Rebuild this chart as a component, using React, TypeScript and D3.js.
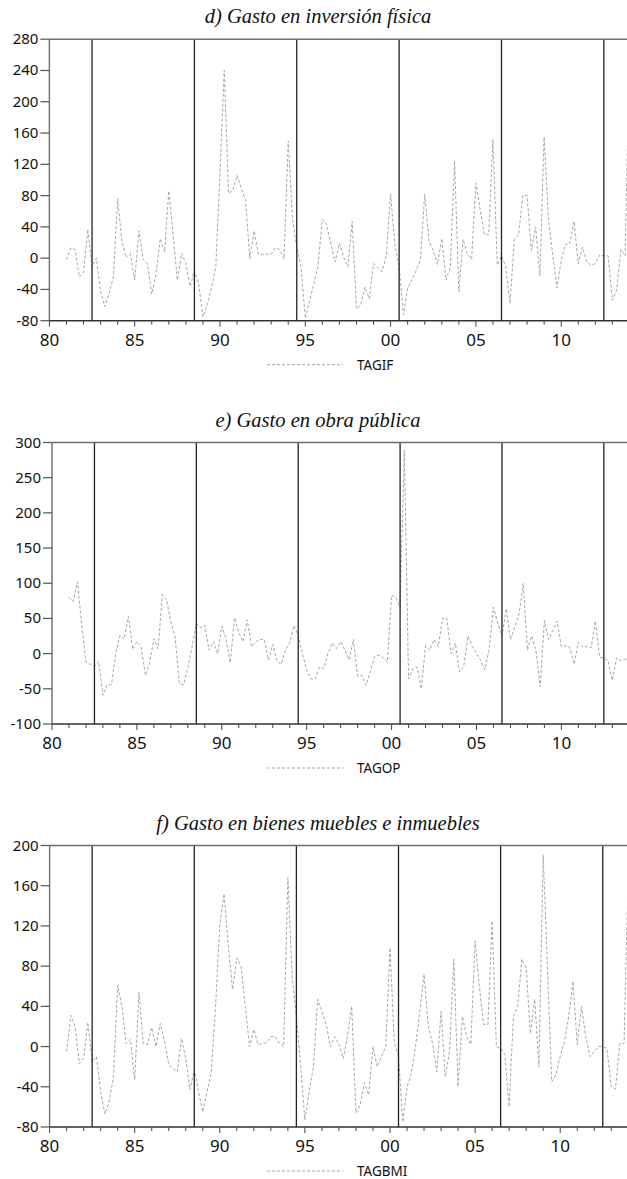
import React from "react";
import * as d3 from "d3";

// ---------- DATA ----------
const START_YEAR = 1981; // first quarter 1981Q1, quarterly observations
const tagif = [
  -2, 13, 11, -24, -19, 37, -11, 0, -42, -62, -45, -24, 76, 22, 1, 6, -28, 35, -2, -7,
  -46, -20, 25, 8, 86, 31, -28, 6, -7, -36, -16, -33, -75, -60, -38, -12, 110, 240, 83, 86,
  106, 89, 74, -1, 35, 5, 5, 5, 5, 13, 11, -1, 150, 50, 14, -11, -77, -55, -33, -9,
  50, 43, 18, -5, 19, 1, -11, 47, -65, -60, -37, -52, -7, -12, -17, 3, 82, 18, -11, -72,
  -38, -28, -16, -2, 82, 22, 10, -8, 25, -28, -11, 124, -43, 24, 5, -1, 96, 62, 30, 30,
  152, -9, 3, -11, -58, 24, 30, 80, 80, 10, 40, -23, 155, 50, 5, -38, -3, 18, 18, 47,
  -7, 14, -5, -9, -7, 4, 3, 3, -54, -41, 11, 3, 270,
];
const tagop = [
  80, 74, 102, 40, -12, -15, -18, -11, -59, -44, -44, 0, 26, 21, 53, 6, 17, 10, -31, -14,
  21, 7, 84, 76, 45, 24, -43, -44, -20, 10, 43, 37, 40, 5, 17, 0, 39, 21, -13, 51,
  30, 17, 48, 10, 17, 20, 20, -9, 13, -11, -15, 5, 15, 40, 26, 0, -23, -36, -36, -19,
  -21, 0, 15, 7, 17, 5, -9, 20, -32, -31, -45, -25, -4, -2, -6, -12, 83, 80, 66, 289,
  -36, -22, -19, -50, 11, 5, 20, 10, 50, 51, 0, 15, -26, -18, 25, 10, 0, -10, -23, 7,
  66, 43, 25, 64, 20, 38, 55, 100, 5, 25, 5, -47, 47, 20, 33, 46, 10, 11, 9, -15,
  16, 9, 10, 8, 46, -5, -6, -10, -38, -6, -10, -8, -8,
];
const tagbmi = [
  -5, 31, 20, -17, -12, 24, -15, -10, -45, -67, -55, -30, 61, 40, 3, 7, -33, 54, 3, 2,
  19, 0, 23, 6, -18, -22, -25, 8, -12, -43, -23, -45, -65, -45, -25, 40, 120, 152, 100, 57,
  88, 80, 40, 0, 17, 2, 3, 4, 10, 10, 3, 0, 168, 70, 30, -20, -73, -45, -20, 47,
  35, 22, 0, 10, 2, -12, 10, 40, -66, -58, -36, -48, 0, -20, -10, 0, 98, 5, -10, -75,
  -40, -27, 0, 35, 72, 20, 3, -25, 35, -30, -5, 87, -40, 30, 10, 2, 105, 60, 22, 22,
  125, 0, -2, -8, -60, 30, 40, 87, 78, 13, 47, -20, 191, 80, -35, -28, -10, 5, 30, 65,
  2, 40, 10, -10, -5, 0, 0, -2, -40, -42, 3, 3, 175,
];
const xTickYears = [1980, 1985, 1990, 1995, 2000, 2005, 2010];
const xTickLabels = ["80", "85", "90", "95", "00", "05", "10"];
const breakYears = [1982.5, 1988.5, 1994.5, 2000.5, 2006.5, 2012.5];
const yTicksD = [-80, -40, 0, 40, 80, 120, 160, 200, 240, 280];
const yTicksE = [-100, -50, 0, 50, 100, 150, 200, 250, 300];
const yTicksF = [-80, -40, 0, 40, 80, 120, 160, 200];
const titles = [
  "d) Gasto en inversión física",
  "e) Gasto en obra pública",
  "f) Gasto en bienes muebles e inmuebles",
];
const seriesNames = ["TAGIF", "TAGOP", "TAGBMI"];

// ---------- LAYOUT ----------
const W = 627;
const H = 1179;
const PLOT_H = 281.5;
const LINE_COLOR = "#a6a6a6";

type PanelProps = {
  id: string;
  title: string;
  name: string;
  values: number[];
  yTicks: number[];
  top: number;
  x0: number;
  pxPerYear: number;
};

function Panel({ id, title, name, values, yTicks, top, x0, pxPerYear }: PanelProps) {
  const x = d3.scaleLinear().domain([1980, 2015]).range([x0, x0 + 35 * pxPerYear]);
  const y = d3
    .scaleLinear()
    .domain([yTicks[0], yTicks[yTicks.length - 1]])
    .range([top + PLOT_H, top]);
  const pts = values.map((v, i) => ({ t: START_YEAR + i / 4, v }));
  const line = d3
    .line<{ t: number; v: number }>()
    .x((d) => x(d.t))
    .y((d) => y(d.v));
  const bottom = top + PLOT_H;
  const minorYears = d3.range(1980, 2016);
  const legendY = bottom + 44;
  return (
    <g>
      <defs>
        <clipPath id={`clip-${id}`}>
          <rect x={x0} y={top} width={W - x0} height={PLOT_H} />
        </clipPath>
      </defs>
      <text
        x={318}
        y={top - 16}
        textAnchor="middle"
        fontFamily="'Liberation Serif', serif"
        fontStyle="italic"
        fontSize={20.5}
        fill="#111"
      >
        {title}
      </text>
      {/* series */}
      <path
        d={line(pts) || ""}
        fill="none"
        stroke={LINE_COLOR}
        strokeWidth={1}
        strokeDasharray="3,2"
        clipPath={`url(#clip-${id})`}
      />
      {/* break lines */}
      {breakYears.map((b) => (
        <line key={b} x1={x(b)} x2={x(b)} y1={top} y2={bottom} stroke="#222" strokeWidth={1.3} />
      ))}
      {/* frame */}
      <line x1={x0} x2={W} y1={top} y2={top} stroke="#6e6e6e" strokeWidth={1.6} />
      <line x1={x0} x2={x0} y1={top} y2={bottom} stroke="#6e6e6e" strokeWidth={1.4} />
      <line x1={x0} x2={W} y1={bottom} y2={bottom} stroke="#333" strokeWidth={1.4} />
      {/* y ticks */}
      {yTicks.map((t) => (
        <g key={t}>
          <line x1={x0 - 9} x2={x0} y1={y(t)} y2={y(t)} stroke="#555" strokeWidth={1.2} />
          <text
            x={x0 - 11}
            y={y(t) + 5}
            textAnchor="end"
            fontFamily="'Noto Sans', sans-serif"
            fontSize={15}
            fill="#111"
          >
            {t}
          </text>
        </g>
      ))}
      {/* x ticks */}
      {minorYears.map((yr) => (
        <line
          key={yr}
          x1={x(yr)}
          x2={x(yr)}
          y1={bottom}
          y2={bottom + (yr % 5 === 0 ? 6 : 4)}
          stroke="#444"
          strokeWidth={1}
        />
      ))}
      {xTickYears.map((yr, i) => (
        <text
          key={yr}
          x={x(yr)}
          y={bottom + 25}
          textAnchor="middle"
          fontFamily="'Noto Sans', sans-serif"
          fontSize={17}
          fill="#111"
        >
          {xTickLabels[i]}
        </text>
      ))}
      {/* legend */}
      <line
        x1={267}
        x2={343}
        y1={legendY}
        y2={legendY}
        stroke={LINE_COLOR}
        strokeWidth={1}
        strokeDasharray="3,2"
      />
      <text
        x={357}
        y={legendY + 5}
        fontFamily="'Noto Sans', sans-serif"
        fontSize={13.5}
        fill="#111"
      >
        {name}
      </text>
    </g>
  );
}

export default function App() {
  return (
    <svg
      width={W}
      height={H}
      viewBox={`0 0 ${W} ${H}`}
      style={{ position: "absolute", left: 0, top: 0, display: "block", background: "#fff" }}
    >
      <rect x={0} y={0} width={W} height={H} fill="#fff" />
      <Panel id="d" title={titles[0]} name={seriesNames[0]} values={tagif} yTicks={yTicksD} top={39.2} x0={49.4} pxPerYear={17.06} />
      <Panel id="e" title={titles[1]} name={seriesNames[1]} values={tagop} yTicks={yTicksE} top={442.5} x0={52} pxPerYear={16.98} />
      <Panel id="f" title={titles[2]} name={seriesNames[2]} values={tagbmi} yTicks={yTicksF} top={845.5} x0={49.6} pxPerYear={17.02} />
    </svg>
  );
}
